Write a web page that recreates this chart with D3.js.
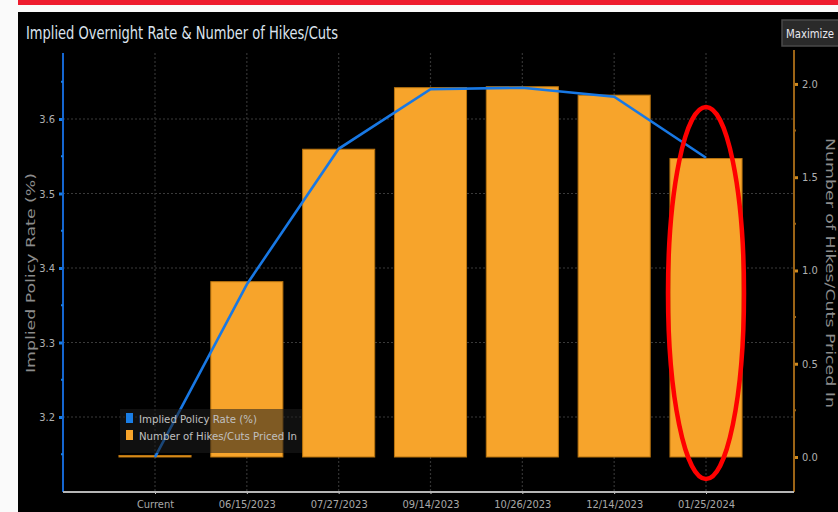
<!DOCTYPE html>
<html><head><meta charset="utf-8">
<script src="https://cdn.jsdelivr.net/npm/d3@7"></script>
<style>
html,body{margin:0;padding:0;background:#fff;}
svg{display:block;}
</style></head>
<body>
<svg id="c" width="838" height="512"></svg>
<script>
const categories = ["Current","06/15/2023","07/27/2023","09/14/2023","10/26/2023","12/14/2023","01/25/2024"];
const impliedRate = [3.146, 3.378, 3.56, 3.64, 3.642, 3.63, 3.548];
const hikesPriced = [0.0, 0.94, 1.65, 1.98, 1.985, 1.94, 1.60];
const leftTicks = [3.2, 3.3, 3.4, 3.5, 3.6];
const leftMinor = [3.15, 3.25, 3.35, 3.45, 3.55, 3.65];
const rightTicks = [0.0, 0.5, 1.0, 1.5, 2.0];
const rightMinor = [0.25, 0.75, 1.25, 1.75];
const seriesNames = ["Implied Policy Rate (%)", "Number of Hikes/Cuts Priced In"];
const titleText = "Implied Overnight Rate & Number of Hikes/Cuts";

const svg = d3.select("#c");
const FONT = "'Liberation Sans Narrow','DejaVu Sans Condensed','Roboto Condensed','Liberation Sans',sans-serif";

// page frame
svg.append("rect").attr("x",0).attr("y",0).attr("width",838).attr("height",512).attr("fill","#fafafa");
svg.append("rect").attr("x",18).attr("y",0).attr("width",820).attr("height",5).attr("fill","#ee1c2e");
svg.append("rect").attr("x",18).attr("y",12).attr("width",820).attr("height",500).attr("fill","#000");

// title
svg.append("text").attr("x",26).attr("y",39).text(titleText)
  .attr("font-family",FONT).attr("font-size",17).attr("fill","#dce4ee")
  .attr("textLength",312).attr("lengthAdjust","spacingAndGlyphs");

// maximize button
svg.append("rect").attr("x",782).attr("y",20).attr("width",60).attr("height",26)
  .attr("fill","#2a2a2a").attr("stroke","#4a4a4a").attr("stroke-width",1.5);
svg.append("text").attr("x",786).attr("y",38).text("Maximize")
  .attr("font-family",FONT).attr("font-size",12).attr("fill","#e8e8f0")
  .attr("textLength",48).attr("lengthAdjust","spacingAndGlyphs");

const xL = 63, xR = 794, yTop = 53, yBot = 492;
const x = d3.scalePoint().domain(categories).range([155, 706]);
const bw = x.step() * 0.785;
const yLeft = d3.scaleLinear().domain([3.1, 3.6926]).range([491.5, 50]);
const yRight = d3.scaleLinear().domain([-0.1877, 2.182]).range([492, 50]);

// grid
const g = svg.append("g");
g.selectAll(".hg").data(leftTicks).enter().append("line")
  .attr("x1",xL).attr("x2",xR).attr("y1",d=>yLeft(d)).attr("y2",d=>yLeft(d))
  .attr("stroke","#3a3a3a").attr("stroke-width",1.2).attr("stroke-dasharray","2,2");
g.selectAll(".vg").data(categories).enter().append("line")
  .attr("x1",d=>x(d)).attr("x2",d=>x(d)).attr("y1",yTop).attr("y2",yBot)
  .attr("stroke","#333").attr("stroke-width",1.2).attr("stroke-dasharray","2,2");

// bars
svg.append("g").selectAll("rect").data(categories).enter().append("rect")
  .attr("x",d=>x(d)-bw/2).attr("width",bw)
  .attr("y",(d,i)=>Math.min(yRight(hikesPriced[i]), yRight(0)-1.5))
  .attr("height",(d,i)=>Math.max(yRight(0)-yRight(hikesPriced[i]),1.5))
  .attr("fill","#f7a42b").attr("stroke","#b9740f").attr("stroke-width",1);

// line
const line = d3.line().x((d,i)=>x(categories[i])).y(d=>yLeft(d));
svg.append("path").datum(impliedRate).attr("d",line)
  .attr("fill","none").attr("stroke","#1878e4").attr("stroke-width",2.6);

// left axis
const la = svg.append("g").attr("transform",`translate(${xL},0)`)
  .call(d3.axisLeft(yLeft).tickValues(leftTicks).tickFormat(d3.format(".1f")).tickSize(4).tickPadding(4));
la.select(".domain").remove();
la.selectAll(".tick line").attr("stroke","#1a7ee6").attr("stroke-width",3);
la.selectAll(".tick text").attr("fill","#b0b0b0").attr("font-family",FONT).attr("font-size",11);
svg.append("line").attr("x1",xL).attr("x2",xL).attr("y1",yTop).attr("y2",yBot)
  .attr("stroke","#1566d0").attr("stroke-width",2);
svg.append("g").selectAll("line").data(leftMinor).enter().append("line")
  .attr("x1",xL-2).attr("x2",xL).attr("y1",d=>yLeft(d)).attr("y2",d=>yLeft(d))
  .attr("stroke","#1a7ee6").attr("stroke-width",2);

// right axis
const ra = svg.append("g").attr("transform",`translate(${xR},0)`)
  .call(d3.axisRight(yRight).tickValues(rightTicks).tickFormat(d3.format(".1f")).tickSize(4).tickPadding(4));
ra.select(".domain").remove();
ra.selectAll(".tick line").attr("stroke","#d08a1e").attr("stroke-width",3);
ra.selectAll(".tick text").attr("fill","#b0b0b0").attr("font-family",FONT).attr("font-size",11);
svg.append("line").attr("x1",xR).attr("x2",xR).attr("y1",yTop-3).attr("y2",yBot)
  .attr("stroke","#9c6416").attr("stroke-width",2);
svg.append("g").selectAll("line").data(rightMinor).enter().append("line")
  .attr("x1",xR).attr("x2",xR+2).attr("y1",d=>yRight(d)).attr("y2",d=>yRight(d))
  .attr("stroke","#9c6416").attr("stroke-width",2);

// bottom axis
const ba = svg.append("g").attr("transform",`translate(0,${yBot})`)
  .call(d3.axisBottom(x).tickSize(2).tickPadding(6));
ba.select(".domain").remove();
ba.selectAll(".tick line").attr("stroke","#ccc");
ba.selectAll(".tick text").attr("fill","#a8a8a8").attr("font-family",FONT).attr("font-size",11);
svg.append("line").attr("x1",xL).attr("x2",xR).attr("y1",yBot).attr("y2",yBot)
  .attr("stroke","#b5b5b5").attr("stroke-width",2);

// axis titles
svg.append("text").attr("transform","translate(35,273) rotate(-90)").attr("text-anchor","middle")
  .text(seriesNames[0]).attr("font-family",FONT).attr("font-size",12).attr("fill","#8c8c8c")
  .attr("textLength",200).attr("lengthAdjust","spacingAndGlyphs");
svg.append("text").attr("transform","translate(826,273) rotate(90)").attr("text-anchor","middle")
  .text(seriesNames[1]).attr("font-family",FONT).attr("font-size",12).attr("fill","#8c8c8c")
  .attr("textLength",270).attr("lengthAdjust","spacingAndGlyphs");

// legend
const lg = svg.append("g");
lg.append("rect").attr("x",120).attr("y",409).attr("width",182).attr("height",44)
  .attr("fill","rgba(30,30,30,0.55)");
const colors = ["#1a7ee6","#f7a42b"];
seriesNames.forEach((n,i)=>{
  lg.append("rect").attr("x",126).attr("y",413+i*17).attr("width",7).attr("height",10).attr("fill",colors[i]);
  lg.append("text").attr("x",139).attr("y",423+i*17).text(n)
    .attr("font-family",FONT).attr("font-size",11).attr("fill","#c0c0c0")
    .attr("textLength",i===0?118:158).attr("lengthAdjust","spacingAndGlyphs");
});

// red annotation ellipse
svg.append("ellipse").attr("cx",x(categories[6])).attr("cy",293).attr("rx",38).attr("ry",186)
  .attr("fill","none").attr("stroke","#ff0000").attr("stroke-width",4.5);
</script>
</body></html>
